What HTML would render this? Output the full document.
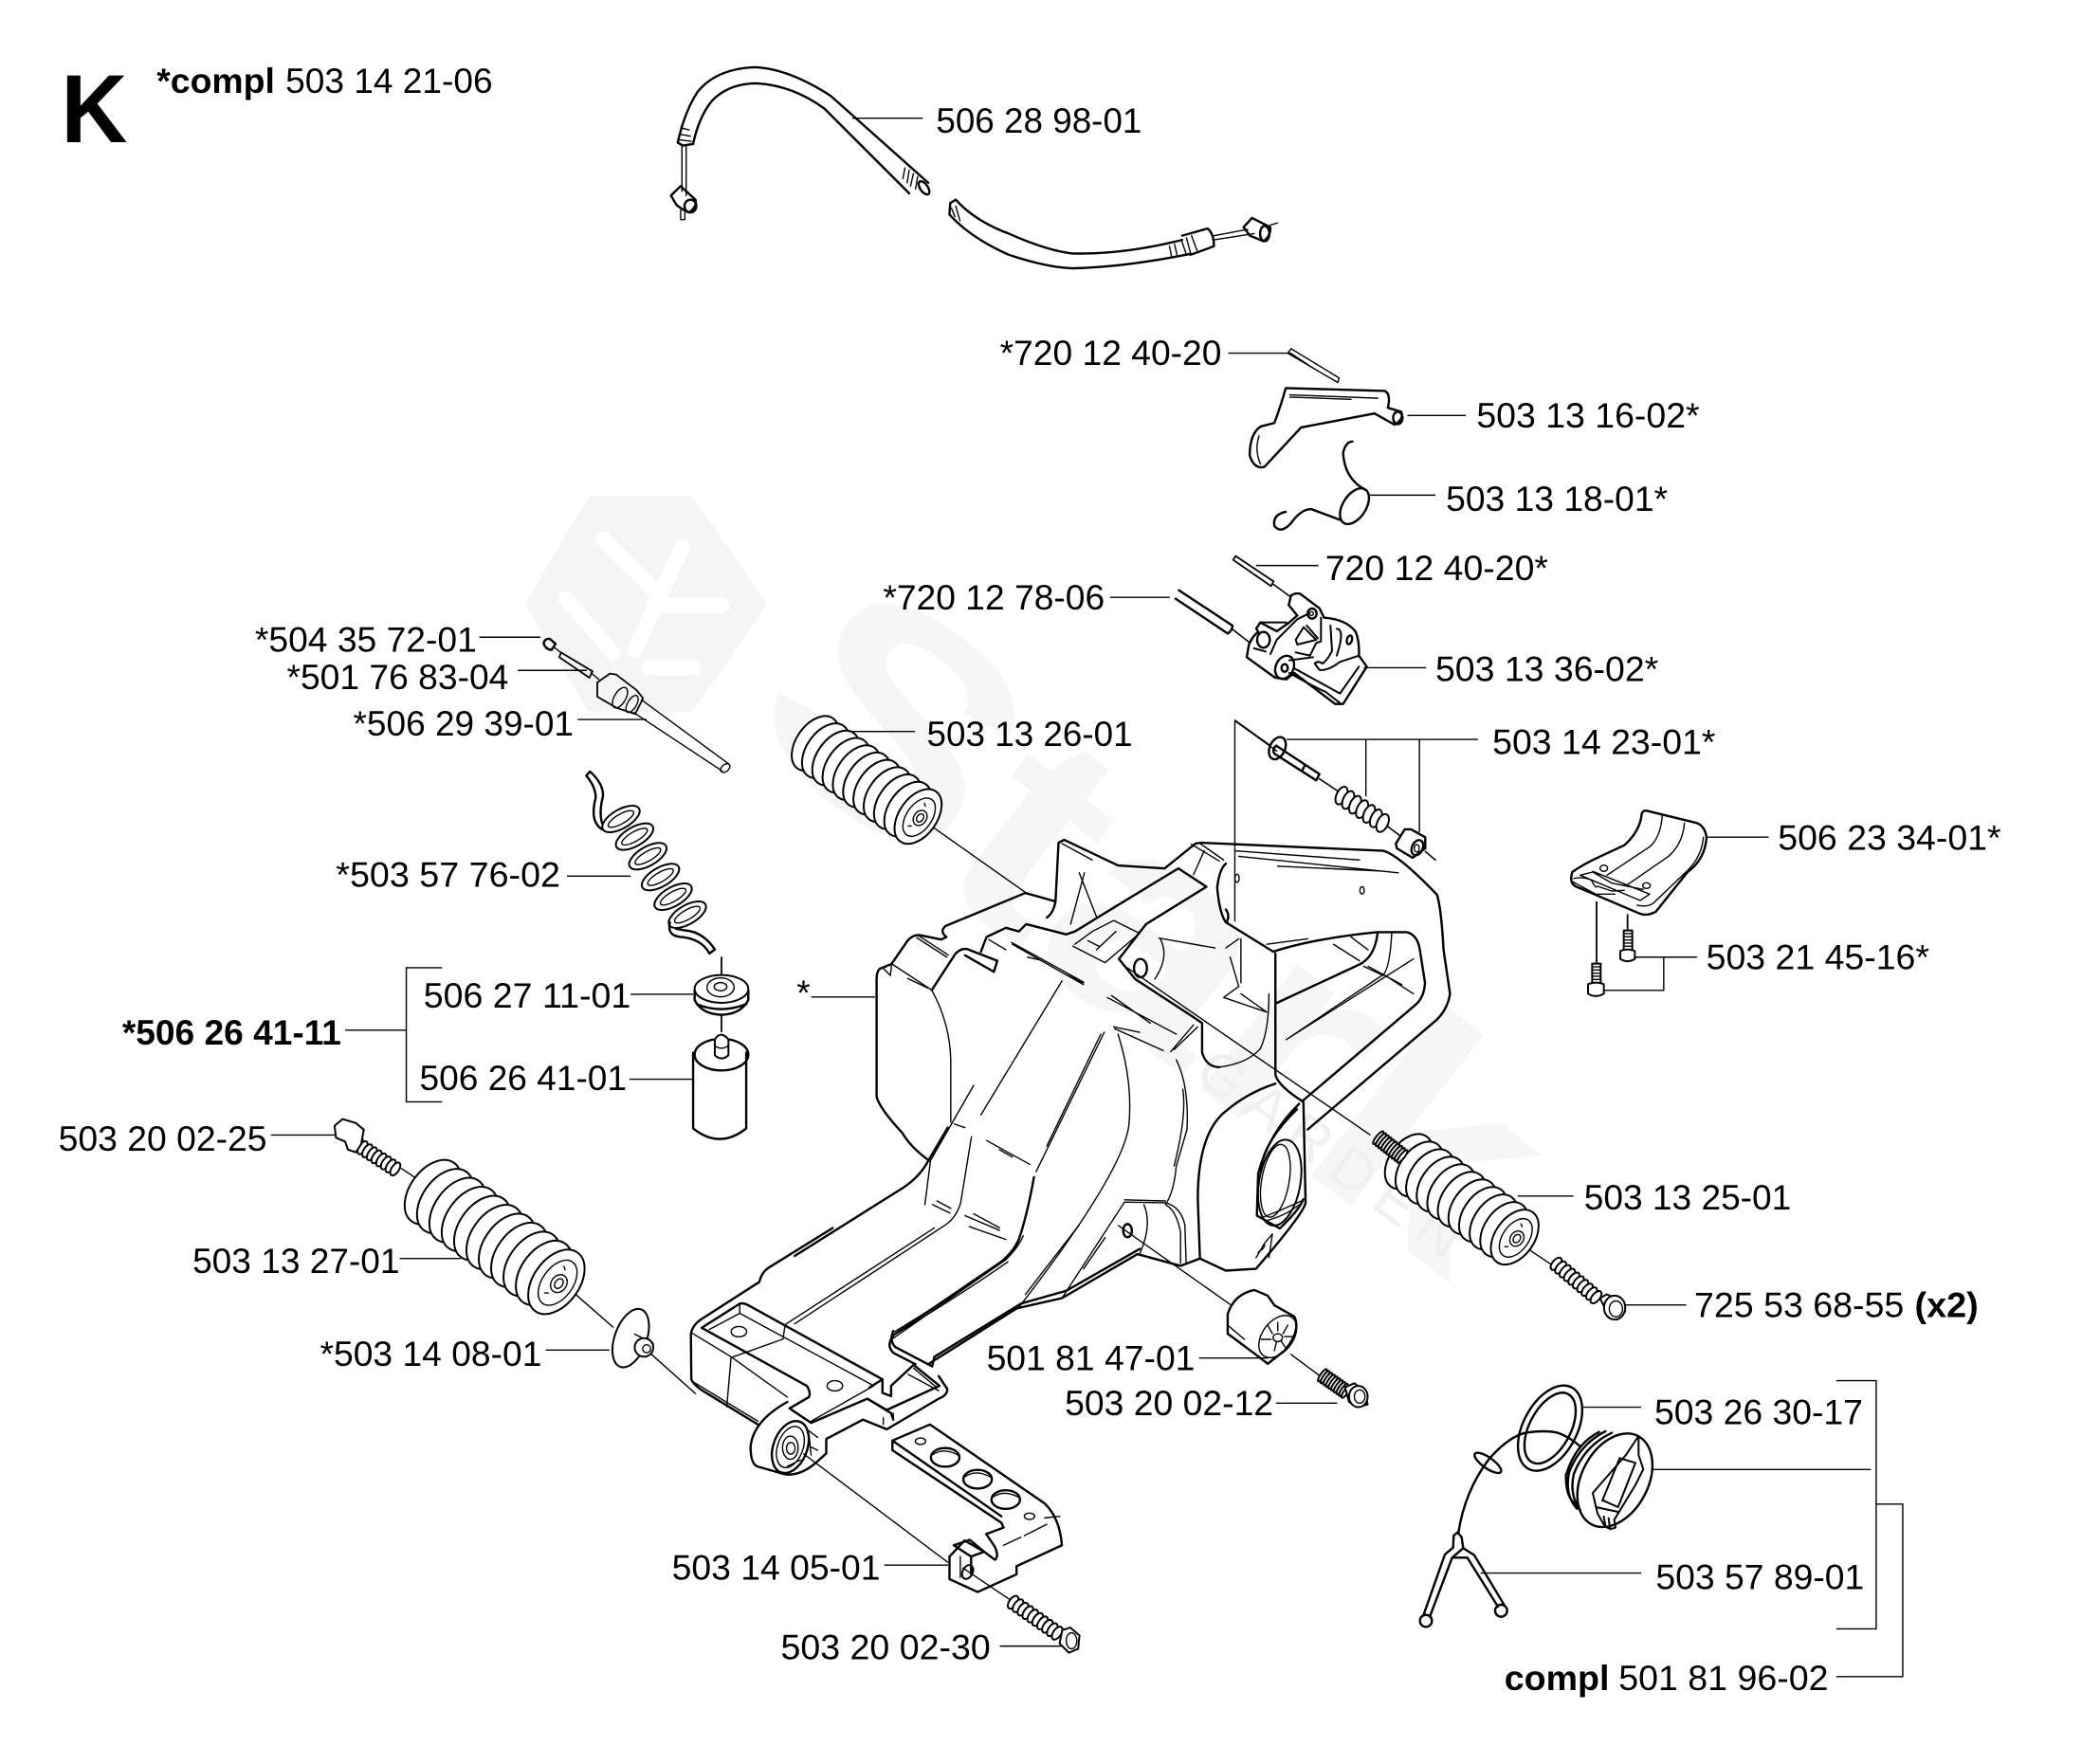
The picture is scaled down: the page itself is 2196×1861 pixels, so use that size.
<!DOCTYPE html>
<html><head><meta charset="utf-8"><title>K</title>
<style>
html,body{margin:0;padding:0;background:#fff}
svg{display:block}
svg *{vector-effect:non-scaling-stroke}
text{font-family:"Liberation Sans",sans-serif;fill:#000;font-size:26.5px}
.b{font-weight:bold}
.l path,.l line,.l ellipse{fill:none;stroke:#000;stroke-width:1.4}
.k{fill:none;stroke:#000;stroke-width:2.4;stroke-linejoin:round;stroke-linecap:round}
.n{fill:none;stroke:#000;stroke-width:1.4;stroke-linecap:round;stroke-linejoin:round}
.w{fill:#fff;stroke:#000;stroke-width:2;stroke-linejoin:round}
</style></head><body>
<svg xmlns="http://www.w3.org/2000/svg" width="2196" height="1861" viewBox="0 0 2196 1861">
<defs>
<g id="bel">
<ellipse class="w" cx="0" cy="0" rx="15" ry="34"/><ellipse class="w" cx="10" cy="0" rx="15" ry="34"/><ellipse class="w" cx="20" cy="0" rx="15" ry="34"/><ellipse class="w" cx="30" cy="0" rx="15" ry="34"/><ellipse class="w" cx="40" cy="0" rx="15" ry="34"/><ellipse class="w" cx="50" cy="0" rx="15" ry="34"/><ellipse class="w" cx="60" cy="0" rx="15" ry="34"/><ellipse class="w" cx="70" cy="0" rx="15" ry="34"/><ellipse class="w" cx="80" cy="0" rx="15" ry="34"/><ellipse class="w" cx="90" cy="0" rx="15" ry="34"/><ellipse class="w" cx="100" cy="0" rx="15" ry="34"/>
<ellipse class="n" cx="101" cy="0" rx="10" ry="24"/><ellipse class="n" cx="102" cy="0" rx="5" ry="9"/><ellipse class="n" cx="102" cy="0" rx="2.5" ry="5"/>
<line class="n" x1="98" y1="-16" x2="100" y2="-14"/><line class="n" x1="98" y1="15" x2="100" y2="13"/>
</g>
<g id="thr">
<ellipse class="w" cx="0" cy="0" rx="2" ry="5"/><ellipse class="w" cx="3" cy="0" rx="2" ry="5"/><ellipse class="w" cx="6" cy="0" rx="2" ry="5"/><ellipse class="w" cx="9" cy="0" rx="2" ry="5"/><ellipse class="w" cx="12" cy="0" rx="2" ry="5"/><ellipse class="w" cx="15" cy="0" rx="2" ry="5"/><ellipse class="w" cx="18" cy="0" rx="2" ry="5"/><ellipse class="w" cx="21" cy="0" rx="2" ry="5"/><ellipse class="w" cx="24" cy="0" rx="2" ry="5"/><ellipse class="w" cx="27" cy="0" rx="2" ry="5"/>
</g>
</defs>

<g transform="scale(1.4005)">
<!-- watermark -->
<g>
<path d="M447 380 L518 380 L570 455 L518 530 L447 530 L403 455 Z" fill="#f5f5f5" stroke="#f5f5f5" stroke-width="18" stroke-linejoin="round"/>
<path d="M454 406 L495 447 M514 412 L478 490 M426 451 L462 492 M492 456 L544 456 M489 503 L522 503" fill="none" stroke="#fff" stroke-width="16" stroke-linecap="round"/>
<text transform="translate(556 548) rotate(38)" x="0" y="0" textLength="680" lengthAdjust="spacingAndGlyphs" style="font-size:225px;font-weight:bold;fill:#f6f6f6">Stark</text>
<text transform="translate(898 812) rotate(36)" x="0" y="0" textLength="235" lengthAdjust="spacing" style="font-size:44px;fill:#f0f0f0">GARDEN</text>
</g>

<!-- labels -->
<text class="b" x="46" y="107" textLength="50" lengthAdjust="spacingAndGlyphs" style="font-size:73px">K</text>
<text class="b" x="118" y="70" textLength="89" lengthAdjust="spacingAndGlyphs">*compl</text>
<text x="215" y="70" textLength="156" lengthAdjust="spacingAndGlyphs">503 14 21-06</text>
<text x="705" y="100" textLength="155" lengthAdjust="spacingAndGlyphs">506 28 98-01</text>
<text x="753" y="275" textLength="167" lengthAdjust="spacingAndGlyphs">*720 12 40-20</text>
<text x="1112" y="322" textLength="168" lengthAdjust="spacingAndGlyphs">503 13 16-02*</text>
<text x="1089" y="385" textLength="167" lengthAdjust="spacingAndGlyphs">503 13 18-01*</text>
<text x="998" y="437" textLength="168" lengthAdjust="spacingAndGlyphs">720 12 40-20*</text>
<text x="665" y="459" textLength="167" lengthAdjust="spacingAndGlyphs">*720 12 78-06</text>
<text x="1081" y="513" textLength="168" lengthAdjust="spacingAndGlyphs">503 13 36-02*</text>
<text x="192" y="491" textLength="167" lengthAdjust="spacingAndGlyphs">*504 35 72-01</text>
<text x="216" y="519" textLength="167" lengthAdjust="spacingAndGlyphs">*501 76 83-04</text>
<text x="266" y="554" textLength="166" lengthAdjust="spacingAndGlyphs">*506 29 39-01</text>
<text x="698" y="562" textLength="155" lengthAdjust="spacingAndGlyphs">503 13 26-01</text>
<text x="1124" y="568" textLength="168" lengthAdjust="spacingAndGlyphs">503 14 23-01*</text>
<text x="1339" y="640" textLength="168" lengthAdjust="spacingAndGlyphs">506 23 34-01*</text>
<text x="253" y="668" textLength="169" lengthAdjust="spacingAndGlyphs">*503 57 76-02</text>
<text x="319" y="759" textLength="156" lengthAdjust="spacingAndGlyphs">506 27 11-01</text>
<text x="600" y="757">*</text>
<text class="b" x="92" y="787" textLength="165" lengthAdjust="spacingAndGlyphs">*506 26 41-11</text>
<text x="316" y="821" textLength="156" lengthAdjust="spacingAndGlyphs">506 26 41-01</text>
<text x="1285" y="730" textLength="168" lengthAdjust="spacingAndGlyphs">503 21 45-16*</text>
<text x="44" y="867" textLength="157" lengthAdjust="spacingAndGlyphs">503 20 02-25</text>
<text x="1193" y="911" textLength="156" lengthAdjust="spacingAndGlyphs">503 13 25-01</text>
<text x="145" y="959" textLength="156" lengthAdjust="spacingAndGlyphs">503 13 27-01</text>
<text x="1276" y="992" textLength="158" lengthAdjust="spacingAndGlyphs">725 53 68-55</text>
<text class="b" x="1442" y="992" textLength="48" lengthAdjust="spacingAndGlyphs">(x2)</text>
<text x="241" y="1029" textLength="167" lengthAdjust="spacingAndGlyphs">*503 14 08-01</text>
<text x="743" y="1032" textLength="157" lengthAdjust="spacingAndGlyphs">501 81 47-01</text>
<text x="802" y="1066" textLength="157" lengthAdjust="spacingAndGlyphs">503 20 02-12</text>
<text x="1246" y="1073" textLength="157" lengthAdjust="spacingAndGlyphs">503 26 30-17</text>
<text x="506" y="1190" textLength="157" lengthAdjust="spacingAndGlyphs">503 14 05-01</text>
<text x="1247" y="1197" textLength="157" lengthAdjust="spacingAndGlyphs">503 57 89-01</text>
<text x="588" y="1250" textLength="158" lengthAdjust="spacingAndGlyphs">503 20 02-30</text>
<text class="b" x="1133" y="1273" textLength="79" lengthAdjust="spacingAndGlyphs">compl</text>
<text x="1219" y="1273" textLength="158" lengthAdjust="spacingAndGlyphs">501 81 96-02</text>

<!-- leaders -->
<g class="l"><path d="M642 89H695 M925 266H972L990 278 M1060 313H1104 M1031 373H1081 M946 426H993 M836 450H881 M1027 503H1074 M969 557H1113 M1028.7 557V600 M1069 557V627 M361 480H407 M390 505H442 M435 542H487 M642 551H689 M1285.7 630.6H1332 M427 660H475 M475 749H522 M474 813H522 M333 729H306V830H333 M260 776H306 M611 751H659 M204 855H252 M301 948H347 M411 1017H459 M1143 901H1185 M1221 983H1270 M1231 721H1278 M1253 721V746H1208 M903 1023H955 M961 1057H1007 M1192 1060H1236 M666 1179H714 M753 1240H805 M1383 1040H1413V1227H1383 M1413 1133H1433V1263H1383 M1245 1107H1409 M1115 1185H1236"/>
<path d="M930 543L962 566 M930 543V694 M701 622L772 672 M849 729L1032 855 M842 923L927 983 M972 1020L996 1038 M430 972L462 1000 M487 1017L524 1050 M302 880L320 892 M1142 935L1172 955 M605 1095L714 1177 M725 1181L765 1208"/></g>

<!-- bellows -->
<use href="#bel" transform="translate(614 560) rotate(35.4) scale(.95 .68)"/>
<use href="#bel" transform="translate(1061 875) rotate(35.5) scale(.98 .68)"/>
<use href="#bel" transform="translate(326 898) rotate(36) scale(1.15 .8)"/>

<!-- bolts -->
<g><use href="#thr" transform="translate(266 860) rotate(33) scale(1.4 1.1)"/><path class="w" d="M252 848L258 843L268 846L274 851L272 862L268 868L262 866L260 860L253 857Z"/></g>
<g><use href="#thr" transform="translate(1172 952) rotate(40) scale(1.45 1.1)"/><path class="w" d="M1205 978L1210 975L1222 980L1224 988L1218 994L1212 992Z"/><ellipse class="w" cx="1216" cy="985" rx="8" ry="9"/><ellipse class="n" cx="1217" cy="986" rx="5" ry="6"/></g>
<g><use href="#thr" transform="translate(996 1036) rotate(35) scale(.8 1.1)"/><path class="w" d="M1013 1045L1020 1042L1028 1048L1030 1058L1022 1060L1016 1056Z"/><ellipse class="w" cx="1023" cy="1052" rx="7" ry="8"/><ellipse class="n" cx="1024" cy="1052" rx="4" ry="5"/></g>
<g><use href="#thr" transform="translate(763 1207) rotate(35) scale(1.5 1.1)"/><path class="w" d="M800 1228L806 1226L813 1232L812 1242L805 1245L798 1238Z"/><ellipse class="n" cx="807" cy="1236" rx="4" ry="6"/></g>
<g><use href="#thr" transform="translate(1038 857) rotate(38) scale(.85 1.2)"/></g>

<!-- washer 503 14 08 -->
<g><ellipse class="w" cx="475" cy="1008" rx="12" ry="23" transform="rotate(20 475 1008)"/><path class="n" d="M478 1005L492 1012"/><ellipse class="w" cx="485" cy="1015" rx="7" ry="7"/><ellipse class="n" cx="487" cy="1016" rx="3" ry="3"/></g>

<!-- filter body -->
<path class="k" d="M522 793V850Q542 866 562 850V793"/>

<!-- Z2 parts -->
<g transform="translate(781.4 0) scale(.5025 .4237)">
<path class="n" d="M375 628L450 680M380 620L452 672M375 628L380 620M450 680L452 672"/>
<path class="k" d="M372 690L520 695Q530 700 525 725L545 732Q550 745 535 755L505 735L395 760L340 830Q325 835 318 810Q318 770 335 758L355 752Q365 720 372 690Z"/>
<path class="n" d="M378 702L510 708M378 706L470 710M332 775Q325 800 334 825"/><ellipse class="k" cx="540" cy="743" rx="7" ry="11"/>
<path class="k" d="M472 785Q462 785 458 805Q460 850 490 870M455 925L410 905Q395 905 380 930Q365 950 355 935Q352 915 372 910"/>
<ellipse class="k" cx="475" cy="900" rx="18" ry="34" transform="rotate(25 475 900)"/>
</g>

<!-- Z4 mount -->
<g transform="translate(781.4 660.6) scale(.5025 .4274)">
<path class="k" d="M285 770Q295 735 325 728L345 738L355 755L385 775Q395 800 370 835L345 858L325 840L285 805Z"/><ellipse class="n" cx="360" cy="810" rx="24" ry="40" transform="rotate(28 360 810)"/><path class="n" d="M360 785V800M375 790L368 805M345 790L352 805M335 815H350M385 810H370M355 835L358 820M372 830L365 818M285 790L310 815"/><circle class="n" cx="360" cy="812" r="7"/>
</g>

<!-- Z5 main body -->
<g transform="translate(598.5 605) scale(.3247 .2762)">
<path class="k" d="M222 440L197 452Q190 460 190 480L190 800Q195 830 250 900Q270 940 312 975"/>
<path class="n" d="M205 450L222 470L225 438L318 510M318 510Q360 600 362 700L362 870M283 367L353 420M288 362L356 414M262 478L310 505"/>
<path class="k" d="M225 438L262 375Q275 358 290 360L340 372L352 365Q335 350 350 335L535 245L605 268Q600 300 585 312M605 268L612 108L625 100L750 170L858 178L930 110L945 108L1365 130Q1400 140 1490 250Q1500 290 1505 400L1520 520Q1515 560 1490 590L1190 890"/>
<path class="k" d="M318 510L372 412Q385 395 400 398L470 430L462 460L395 415M432 405L445 365L490 340L520 350L537 330L630 358L650 350L740 285L890 178L955 228L815 330L752 425L790 480L920 580L945 600L945 680Q955 720 985 720"/>
<path class="n" d="M985 720Q1050 710 1080 670Q1100 620 1100 520M450 372L490 400M505 385L670 495M503 380L670 488M540 420L570 428M625 465L670 490M620 485L432 850M845 368L975 395M848 370Q870 420 835 480"/>
<path class="k" d="M1110 405L1000 325Q985 300 980 230Q985 180 1000 165M1115 410L1115 740Q1120 770 1180 815L1185 1090Q1180 1120 1070 1270L1000 1275L940 1242L895 1262L795 1230L620 1350L515 1378L310 1530M1110 405Q1200 370 1350 352L1420 352Q1445 360 1450 400L1462 490Q1460 530 1440 550L1180 810M1118 545L1310 440Q1345 420 1352 355"/>
<path class="k" d="M940 1242L935 1080Q935 900 1000 840Q1050 790 1115 765"/>
<path class="n" d="M1140 645L1435 425M1290 365L1330 400M1250 385L1310 430M1385 352Q1380 460 1362 470L1140 645M1320 445L1365 470M1330 445L1408 495M1370 470L1435 520M940 110L995 155M920 112L985 158M950 130L925 195M1020 130L1310 155M1030 145L1400 190M1120 172L1360 185M1000 395L1030 370M1010 420L1030 500L995 530L1095 570L1035 520M1035 370L1035 490M1085 385L1110 405M1190 370L1095 385"/>
<path class="k" d="M1000 290Q1010 305 1002 325"/>
<ellipse class="n" cx="1026" cy="205" rx="5" ry="11"/><ellipse class="n" cx="1316" cy="238" rx="5" ry="10"/><ellipse class="k" cx="802" cy="450" rx="15" ry="25"/>
<path class="n" d="M650 385L690 350L740 320L800 355L720 435L645 390M680 375L705 390M700 400L745 350M660 190L700 310M672 190L640 330M620 110L690 155"/>
<path class="n" d="M415 770L315 975L302 1095M410 910L385 1090Q375 1130 350 1150L0 1420M725 530L885 630M735 525L825 600M880 672L935 610M872 678L925 605M740 610L800 625M718 625L560 1005M710 630L585 935M750 630Q785 760 775 880Q760 1010 520 1375M885 700Q915 770 910 890L885 990Q880 1060 860 1095M900 780Q910 850 880 990"/>
<path class="n" d="M742 615L855 675M370 875L395 885M445 920L545 985M475 945L505 965M320 1095L360 1118M330 1085L362 1105M395 1125L475 1165M415 1120L475 1158M405 1155L490 1190"/>
<path class="k" d="M0 1235L250 1050Q290 1020 310 975L355 885"/>
<path class="k" d="M555 1020Q540 1120 520 1190Q510 1220 480 1250L230 1450Q210 1480 230 1500L280 1530"/>
<path class="n" d="M228 1460L490 1245Q520 1210 530 1180"/>
<path class="n" d="M765 1088L860 1090M765 1082L860 1085M860 1090Q895 1100 905 1150L908 1255M860 1095Q885 1110 895 1170L895 1255M810 1095Q830 1150 800 1230M765 1088L620 1350M660 1150L535 1340M720 1185L670 1270M890 1262L795 1230"/>
<ellipse class="k" cx="772" cy="1166" rx="10" ry="18"/>
<path class="k" d="M1170 820Q1100 900 1075 1010L1072 1125L1125 1160Q1170 1110 1180 1080M1165 835Q1090 920 1080 1000"/>
<ellipse class="k" cx="1125" cy="1035" rx="48" ry="118" transform="rotate(8 1125 1035)" style="stroke-width:2"/>
<ellipse class="n" cx="1115" cy="1030" rx="32" ry="100" transform="rotate(8 1115 1030)"/>
<path class="n" d="M1085 1130Q1130 1110 1175 1085M1090 1140Q1140 1125 1170 1095M1070 1240L1090 1200L1108 1175L1100 1240M1075 1225Q1090 1215 1090 1205"/>
</g>

<!-- Z6 bracket -->
<g transform="translate(498.5 925) scale(.3257 .2427)">
<path class="k" d="M395 0L245 125Q230 140 225 168L95 280Q70 300 67 330L68 470Q75 490 100 510L222 610"/>
<path class="n" d="M68 325L160 400L290 525M160 400L150 555M630 0L285 300L280 345L165 400M75 480L222 600M285 300L280 345"/>
<path class="k" d="M92 310L180 235Q190 232 200 240L510 470L510 512L530 522L530 490L582 425L642 490L520 565L475 530L345 605L295 560L340 525Q345 510 335 490L92 310Z"/>
<path class="n" d="M110 315L180 265L490 490L345 600M180 235L180 265M582 435L635 495M570 455L640 505"/>
<path class="k" d="M510 470L480 495M475 530L530 575L535 595M640 460L660 500Q660 520 640 530L520 625L465 595L380 655L380 700L355 730Q320 770 285 765L220 740Q205 730 205 680Q210 600 290 540"/>
<path class="n" d="M535 575L535 590M512 590V610M340 630L360 650M345 680L360 690M290 740L320 720M340 640L345 705"/>
<ellipse class="k" cx="297" cy="680" rx="40" ry="82" transform="rotate(12 297 680)"/>
<ellipse class="n" cx="297" cy="680" rx="30" ry="65" transform="rotate(12 297 680)"/>
<ellipse class="n" cx="297" cy="682" rx="18" ry="36"/><ellipse class="n" cx="298" cy="684" rx="10" ry="18"/>
<ellipse class="n" cx="178" cy="322" rx="18" ry="16"/><ellipse class="n" cx="400" cy="490" rx="18" ry="16"/>
<path class="k" d="M535 320Q525 350 540 370L625 430L630 400L830 235L935 195L1105 65"/>
<path class="n" d="M538 322Q700 190 790 100Q820 60 835 0M546 325Q705 195 800 105"/>
<path class="k" d="M533 660L620 610L885 855Q920 900 925 985L820 1050L820 1075L730 1130L665 1090L665 1020L700 970L745 1005L770 1030Q780 1020 770 990L750 950L790 930L785 915L533 690ZM533 660L785 895"/>
<path class="k" d="M675 985L712 968L745 1005L715 1020L675 985M715 1020L715 1075"/>
<path class="n" d="M690 1020V1085M885 900L920 895M790 985L830 960M838 955L890 920"/>
<ellipse class="k" cx="707" cy="1068" rx="12" ry="22" transform="rotate(15 707 1068)" style="stroke-width:2"/>
<ellipse class="k" cx="655" cy="712" rx="33" ry="29"/><path class="n" d="M625 705Q650 680 685 705"/>
<ellipse class="k" cx="730" cy="780" rx="33" ry="29"/><path class="n" d="M700 773Q725 748 760 773"/>
<ellipse class="k" cx="795" cy="843" rx="33" ry="29"/><path class="n" d="M765 836Q790 811 825 836"/>
<ellipse class="n" cx="598" cy="662" rx="12" ry="10"/><ellipse class="n" cx="850" cy="895" rx="12" ry="10"/>
</g>
</g>

<!-- real-pixel traces -->
<!-- cable -->
<g transform="translate(680 50) scale(.4464)">
<path class="k" d="M78 225Q95 150 125 105Q170 50 260 47Q340 50 440 115L670 320M115 225Q130 160 160 125Q200 85 265 85Q350 90 425 145L625 345M78 225L90 232L115 228"/>
<ellipse class="k" cx="660" cy="332" rx="9" ry="18" transform="rotate(-35 660 332)"/>
<path class="n" d="M85 190L105 195M82 205L108 210M80 218L110 222M615 285L610 310M625 290L620 320M635 298L628 328M645 305L640 335"/>
<path class="n" d="M88 232L88 340M98 232L98 350"/>
<path class="k" d="M62 350L85 328L120 360Q125 375 105 390Q90 385 75 372Z"/><ellipse class="k" cx="108" cy="375" rx="14" ry="15"/><path class="n" d="M85 385L85 407L95 407L95 390"/>
<path class="k" d="M722 368L735 360Q780 410 860 440Q950 480 1010 487Q1130 490 1270 455M720 395Q770 450 860 490Q950 520 1010 522Q1130 520 1290 488M722 368L720 395"/>
<path class="k" d="M1270 445L1330 428Q1345 440 1345 470L1290 490"/>
<path class="n" d="M735 375L745 410M725 380L733 400M1240 470L1245 495M1252 465L1258 492M1268 455L1280 490M1280 450L1290 487M1292 445L1305 480"/>
<path class="n" d="M1345 445L1425 430M1345 455L1440 440"/>
<path class="k" d="M1415 425L1435 403L1478 425Q1480 445 1462 458L1430 445Z"/><ellipse class="k" cx="1465" cy="440" rx="11" ry="18"/><path class="n" d="M1478 420L1495 415"/>
</g>

<!-- nozzle, hose, grommet -->
<g transform="translate(560 640) scale(.3333)">
<path class="k" d="M40 115Q45 100 60 102L78 118L65 137Q45 135 40 115Z"/><path class="n" d="M75 130L95 145M190 210L215 230"/>
<path class="n" d="M95 145L195 205L185 225L90 160Z" style="stroke-width:1.8"/>
<path class="k" d="M210 240L250 212L270 215L335 265L355 290L330 340L270 320L210 285Z" style="stroke-width:1.8"/>
<ellipse class="n" cx="282" cy="288" rx="18" ry="36" transform="rotate(30 282 288)"/><ellipse class="n" cx="320" cy="308" rx="14" ry="30" transform="rotate(30 320 308)"/>
<path class="n" d="M350 295L625 497M325 335L605 520"/><ellipse class="n" cx="615" cy="511" rx="11" ry="17" transform="rotate(50 615 511)"/>
<g style="stroke-width:2">
<path class="k" d="M175 535L187 522Q230 560 228 600Q215 650 225 685M175 535Q205 570 205 605Q185 680 225 705"/>
<ellipse class="w" cx="285" cy="672" rx="66" ry="30" transform="rotate(-30 285 672)"/><ellipse class="n" cx="285" cy="672" rx="46" ry="15" transform="rotate(-30 285 672)"/>
<ellipse class="w" cx="328" cy="728" rx="66" ry="30" transform="rotate(-30 328 728)"/><ellipse class="n" cx="328" cy="728" rx="46" ry="15" transform="rotate(-30 328 728)"/>
<ellipse class="w" cx="370" cy="790" rx="66" ry="30" transform="rotate(-30 370 790)"/><ellipse class="n" cx="370" cy="790" rx="46" ry="15" transform="rotate(-30 370 790)"/>
<ellipse class="w" cx="410" cy="856" rx="66" ry="30" transform="rotate(-30 410 856)"/><ellipse class="n" cx="410" cy="856" rx="46" ry="15" transform="rotate(-30 410 856)"/>
<ellipse class="w" cx="450" cy="918" rx="66" ry="30" transform="rotate(-30 450 918)"/><ellipse class="n" cx="450" cy="918" rx="46" ry="15" transform="rotate(-30 450 918)"/>
<ellipse class="w" cx="495" cy="975" rx="66" ry="30" transform="rotate(-30 495 975)"/><ellipse class="n" cx="495" cy="975" rx="46" ry="15" transform="rotate(-30 495 975)"/>
<path class="k" d="M440 1000Q430 1040 470 1045Q540 1050 565 1098L582 1085Q545 1030 490 1025L460 1020"/>
</g>
<path class="n" d="M603 1110V1170M603 1295V1345" style="stroke-width:1.8"/>
<path class="k" d="M518 1215V1245Q540 1290 603 1292Q665 1290 688 1245V1215M525 1258Q600 1290 682 1258"/>
<ellipse class="w" cx="603" cy="1210" rx="85" ry="44"/><ellipse class="n" cx="600" cy="1205" rx="43" ry="30"/><ellipse class="n" cx="600" cy="1203" rx="20" ry="13"/>
<ellipse class="k" cx="603" cy="1418" rx="85" ry="50"/>
<path class="w" d="M582 1370Q600 1340 625 1370V1420Q603 1440 582 1420Z"/><path class="n" d="M582 1390Q603 1405 625 1390"/>
</g>

<!-- 503 13 36 and 503 14 23 -->
<g transform="translate(1240 560) scale(.3333)">
<path class="n" d="M190 80L310 160L302 175L182 92Z" style="stroke-width:1.8"/><path class="n" d="M310 170L365 210M178 310L232 352M455 785L515 825M670 935L710 965M790 1015L822 1042M188 600L300 680" style="stroke-width:1.6"/>
<path class="k" d="M10 188L180 300Q180 315 165 325L0 215"/>
<path class="k" d="M365 205Q380 195 395 200L455 245L470 275Q540 280 570 320Q582 350 580 395L605 430L530 548L505 548L375 450L350 470L315 465L225 400L232 360Q245 330 262 320L255 310L268 290L320 318L360 290L385 268L358 235Z"/>
<ellipse class="k" cx="345" cy="432" rx="28" ry="38" transform="rotate(25 345 432)"/><ellipse class="k" cx="345" cy="434" rx="10" ry="12"/><ellipse class="k" cx="278" cy="345" rx="20" ry="25"/><ellipse class="k" cx="432" cy="262" rx="14" ry="16"/><ellipse class="n" cx="430" cy="262" rx="6" ry="6"/><ellipse class="k" cx="550" cy="345" rx="8" ry="14" transform="rotate(15 550 345)"/>
<path class="k" d="M300 390L320 345L385 280L415 265M270 290L350 290M360 410L435 400M248 372L285 382M380 345L405 305L445 345L385 360ZM415 300L450 340M460 275L460 350L445 355L425 395L380 385M490 300L495 380Q480 410 465 420M510 310Q530 310 520 360L510 395M465 420Q450 410 440 420L455 440Q480 445 520 415L580 395M375 435L520 515L580 430M360 450Q430 490 475 510L520 545" style="stroke-width:2"/>
<ellipse class="k" cx="322" cy="688" rx="24" ry="37" transform="rotate(25 322 688)"/>
<path class="k" d="M318 680L455 770L445 790L312 705Q305 690 318 680ZM410 740L400 760"/>
<ellipse class="w" cx="525" cy="838" rx="16" ry="30" transform="rotate(25 525 838)"/><ellipse class="w" cx="546" cy="852" rx="16" ry="30" transform="rotate(25 546 852)"/><ellipse class="w" cx="568" cy="867" rx="16" ry="30" transform="rotate(25 568 867)"/><ellipse class="w" cx="590" cy="881" rx="16" ry="30" transform="rotate(25 590 881)"/><ellipse class="w" cx="612" cy="896" rx="16" ry="30" transform="rotate(25 612 896)"/><ellipse class="w" cx="634" cy="910" rx="16" ry="30" transform="rotate(25 634 910)"/><ellipse class="w" cx="655" cy="925" rx="17" ry="30" transform="rotate(25 655 925)"/>
<path class="k" d="M697 990L725 945L745 945L790 970L790 1005L750 1035L700 1005Z"/><ellipse class="k" cx="765" cy="1003" rx="17" ry="25" transform="rotate(25 765 1003)"/><ellipse class="n" cx="763" cy="1005" rx="8" ry="12"/>
</g>

<!-- plate and screws -->
<g transform="translate(1620 840) scale(.3333)">
<path class="k" d="M335 55Q340 42 355 47L510 85Q535 95 540 130Q535 200 480 240L380 365Q350 382 325 370L125 285Q105 275 115 240Q150 215 205 190L280 155Q330 110 335 55Z"/>
<path class="n" d="M400 60Q395 130 360 160L225 250M470 85Q465 150 420 190L290 280M530 130Q525 190 480 235L370 340Q350 352 320 345M180 240L140 250L330 330L360 310L180 238M180 240L240 275L340 295M115 270L190 310L250 310M175 265Q190 295 195 285L240 300L280 298M120 260Q150 255 175 265"/>
<ellipse class="n" cx="215" cy="228" rx="12" ry="10"/><ellipse class="n" cx="350" cy="283" rx="12" ry="9"/>
<path class="k" d="M192 335V530M290 375V430" style="stroke-width:1.8"/>
<path class="w" d="M178 530H205V592H178Z"/><path class="n" d="M178 540H205M178 550H205M178 560H205M178 570H205M178 580H205"/>
<path class="w" d="M165 595Q190 585 215 595V625Q190 640 165 625Z"/>
<path class="w" d="M278 425H305V487H278Z"/><path class="n" d="M278 435H305M278 445H305M278 455H305M278 465H305M278 475H305"/>
<path class="w" d="M267 490Q290 480 313 490V515Q290 530 267 515Z"/>
</g>

<!-- cap -->
<g transform="translate(1480 1440) scale(.3333)">
<ellipse class="k" cx="465" cy="200" rx="85" ry="146" transform="rotate(28 465 200)"/><ellipse class="k" cx="465" cy="200" rx="65" ry="122" transform="rotate(28 465 200)"/>
<path class="k" d="M175 530Q195 400 270 300Q330 230 385 215Q450 205 490 215Q530 230 560 258"/>
<ellipse class="k" cx="268" cy="310" rx="50" ry="17" transform="rotate(35 268 310)"/>
<path class="k" d="M172 530L160 540L158 578L132 600L65 790M172 530L185 545L190 580L225 602L320 760M155 610L85 795M155 610L203 610L300 765M155 610L190 580"/>
<circle class="k" cx="72" cy="810" r="19"/><circle class="k" cx="310" cy="778" r="19"/>
<path class="k" d="M640 210Q560 250 525 340Q510 410 550 455M660 215Q575 255 540 345Q525 410 560 460M620 212Q545 250 515 350Q515 420 545 440"/>
<ellipse class="k" cx="670" cy="365" rx="105" ry="158" transform="rotate(28 670 365)"/>
<path class="k" d="M745 225L705 285L600 405L615 470L635 505Q650 525 672 515L668 490L735 380L760 330L745 285L745 225M685 295L630 430M685 295L735 310L680 450L635 430M610 450L680 465M635 480L640 510M650 485L655 520" style="stroke-width:2"/>
</g>
</svg>
</body></html>
